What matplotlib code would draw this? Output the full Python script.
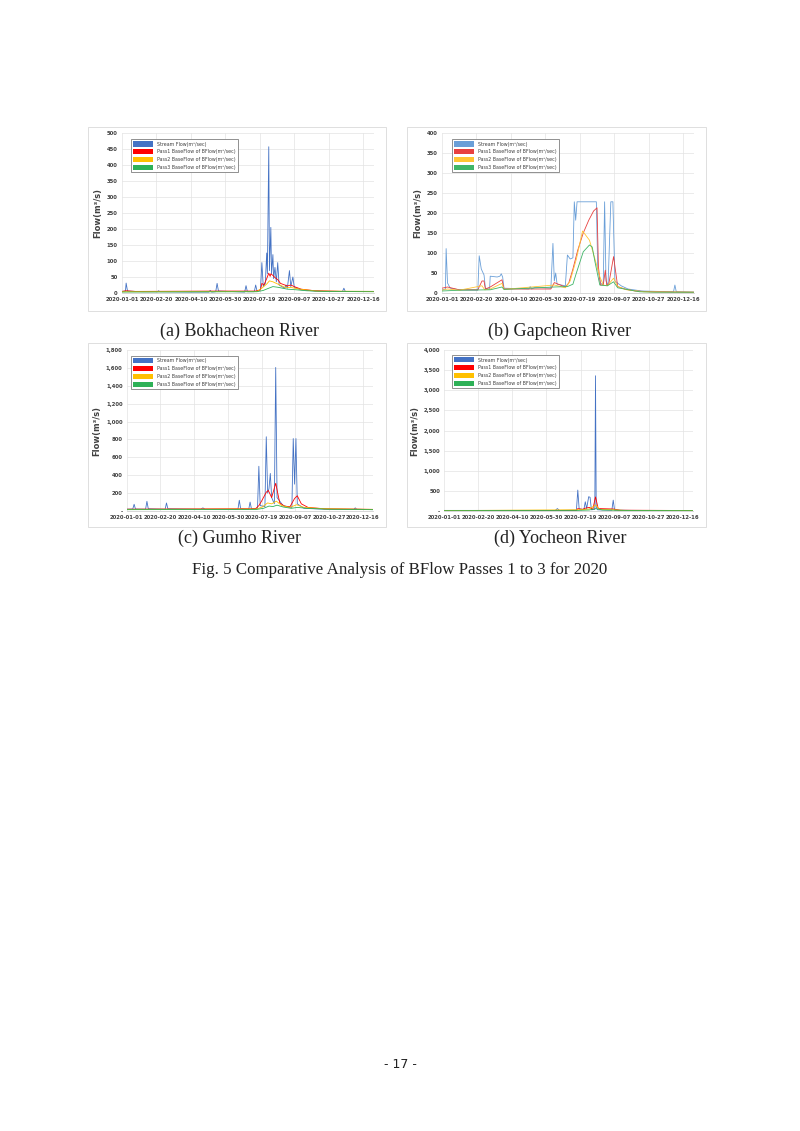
import numpy as np
import matplotlib
matplotlib.use("Agg")
import matplotlib.pyplot as plt
import matplotlib.dates as mdates
from matplotlib.patches import Patch, Rectangle
from matplotlib.ticker import FuncFormatter

# ---- data (MM-DD of 2020, flow in m3/s) ----
SERIES_LABELS = ['Stream Flow(m³/sec)', 'Pass1 BaseFlow of BFlow(m³/sec)',
                 'Pass2 BaseFlow of BFlow(m³/sec)', 'Pass3 BaseFlow of BFlow(m³/sec)']
PANEL_TITLES = ['(a) Bokhacheon River', '(b) Gapcheon River', '(c) Gumho River', '(d) Yocheon River']
FIG_CAPTION = 'Fig. 5 Comparative Analysis of BFlow Passes 1 to 3 for 2020'
PAGE_NO = '- 17 -'

# (a) Bokhacheon
A_STREAM_DATES = ['01-01', '01-06', '01-07', '01-09', '01-31', '02-22', '02-23', '02-25', '04-10', '05-06',
                  '05-08', '05-10', '05-16', '05-18', '05-20', '06-27', '06-29', '07-01', '07-11', '07-13',
                  '07-15', '07-20', '07-22', '07-24', '07-27', '07-29', '07-30', '08-01', '08-02', '08-04',
                  '08-05', '08-07', '08-08', '08-10', '08-12', '08-14', '08-16', '08-24', '08-26', '08-28',
                  '08-31', '09-02', '09-05', '09-07', '09-17', '10-07', '11-16', '11-18', '11-20', '12-31']
A_STREAM = [5, 6, 31, 6, 4, 4, 7, 4, 3, 3,
            8, 3, 4, 30, 6, 3, 23, 4, 4, 25,
            6, 10, 95, 20, 30, 125, 60, 457, 70, 205,
            60, 120, 45, 80, 35, 95, 25, 15, 25, 15,
            70, 20, 50, 18, 10, 6, 5, 15, 5, 5]
A_PASS1_DATES = ['01-01', '01-07', '01-20', '05-18', '07-13', '07-20', '07-22', '07-25', '07-29', '08-01',
                 '08-03', '08-04', '08-07', '08-10', '08-14', '08-18', '08-28', '09-02', '09-07', '09-17',
                 '10-07', '11-16', '12-31']
A_PASS1 = [5, 7, 5, 6, 6, 10, 30, 25, 45, 62, 52, 60, 55, 48, 42, 30, 22, 25, 20, 12, 7, 5, 5]
A_PASS2_DATES = ['01-01', '07-15', '07-22', '07-29', '08-02', '08-07', '08-14', '08-24', '09-03', '09-15',
                 '10-10', '12-31']
A_PASS2 = [4, 5, 15, 28, 38, 35, 28, 18, 17, 12, 6, 5]
A_PASS3_DATES = ['01-01', '07-15', '07-24', '08-01', '08-07', '08-14', '08-28', '09-10', '09-25', '10-20',
                 '12-31']
A_PASS3 = [3, 4, 8, 15, 20, 18, 12, 10, 7, 5, 4]

# (b) Gapcheon
B_STREAM_DATES = ['01-01', '01-06', '01-07', '01-09', '01-13', '01-26', '02-22', '02-24', '02-27', '03-02',
                  '03-04', '03-10', '03-11', '03-21', '03-25', '03-27', '03-29', '03-31', '05-06', '05-08',
                  '05-10', '05-15', '06-07', '06-10', '06-12', '06-14', '06-16', '06-28', '07-01', '07-05',
                  '07-09', '07-11', '07-13', '07-15', '08-12', '08-14', '08-18', '08-22', '08-24', '08-26',
                  '08-29', '09-02', '09-05', '09-08', '09-17', '09-27', '10-17', '12-02', '12-04', '12-06',
                  '12-31']
B_STREAM = [8, 10, 111, 25, 12, 8, 7, 93, 60, 45,
            12, 10, 42, 40, 42, 48, 40, 12, 10, 16,
            10, 14, 12, 124, 30, 50, 22, 18, 95, 85,
            88, 228, 182, 228, 228, 60, 25, 20, 228, 30,
            20, 228, 228, 30, 18, 10, 5, 3, 20, 3,
            2]
B_PASS1_DATES = ['01-01', '01-09', '01-26', '02-22', '02-28', '03-02', '03-04', '03-11', '03-28', '03-31',
                 '06-07', '06-12', '06-28', '07-03', '07-09', '07-16', '07-24', '08-01', '08-08', '08-13',
                 '08-15', '08-18', '08-22', '08-25', '08-27', '08-30', '09-06', '09-12', '09-22', '10-07',
                 '11-01', '12-31']
B_PASS1 = [12, 15, 8, 8, 30, 30, 10, 15, 33, 10,
           10, 26, 15, 25, 60, 107, 150, 182, 205, 213,
           66, 20, 20, 57, 20, 22, 91, 16, 10, 5,
           3, 2]
B_PASS2_DATES = ['01-01', '01-09', '01-26', '02-28', '03-03', '03-11', '03-28', '03-31', '06-12', '06-28',
                 '07-05', '07-14', '07-23', '08-02', '08-09', '08-17', '08-22', '08-28', '09-06', '09-12',
                 '09-25', '10-20', '12-31']
B_PASS2 = [7, 10, 7, 18, 8, 10, 24, 9, 20, 13, 30, 85, 155, 132, 91, 41, 20, 18, 37, 16, 8, 3, 2]
B_PASS3_DATES = ['01-01', '01-26', '03-11', '03-28', '03-31', '06-12', '07-01', '07-09', '07-14', '07-24',
                 '08-02', '08-06', '08-10', '08-17', '08-28', '09-06', '09-12', '10-14', '11-06', '12-31']
B_PASS3 = [5, 7, 8, 15, 9, 15, 16, 22, 50, 103, 120, 115, 78, 20, 18, 28, 13, 3, 2, 2]

# (c) Gumho
C_STREAM_DATES = ['01-01', '01-10', '01-12', '01-14', '01-29', '01-31', '02-02', '02-27', '02-29', '03-02',
                  '04-20', '04-23', '04-26', '06-14', '06-16', '06-18', '06-30', '07-02', '07-04', '07-13',
                  '07-15', '07-17', '07-24', '07-26', '07-28', '07-30', '08-01', '08-03', '08-07', '08-09',
                  '08-11', '08-20', '09-02', '09-04', '09-06', '09-08', '09-10', '09-20', '10-20', '12-03',
                  '12-05', '12-07', '12-31']
C_STREAM = [20, 22, 75, 22, 20, 108, 25, 20, 90, 25,
            20, 35, 20, 20, 120, 25, 20, 100, 25, 30,
            500, 60, 50, 830, 200, 250, 420, 150, 80, 1605,
            150, 60, 40, 810, 300, 810, 80, 30, 20, 20,
            35, 20, 15]
C_PASS1_DATES = ['01-01', '07-10', '07-15', '07-19', '07-26', '07-29', '08-03', '08-09', '08-15', '08-22',
                 '08-30', '09-06', '09-10', '09-16', '09-26', '10-20', '12-31']
C_PASS1 = [20, 25, 60, 110, 210, 230, 150, 310, 90, 55, 45, 140, 170, 80, 40, 25, 18]
C_PASS2_DATES = ['01-01', '07-12', '07-20', '07-28', '08-03', '08-10', '08-18', '08-30', '09-09', '09-20',
                 '10-20', '12-31']
C_PASS2 = [18, 22, 45, 90, 80, 110, 60, 40, 70, 40, 25, 18]
C_PASS3_DATES = ['01-01', '07-12', '07-22', '07-30', '08-05', '08-11', '08-20', '09-01', '09-10', '09-25',
                 '10-25', '12-31']
C_PASS3 = [15, 18, 30, 55, 50, 65, 45, 30, 40, 30, 20, 15]

# (d) Yocheon
D_STREAM_DATES = ['01-01', '06-12', '06-15', '06-18', '07-13', '07-15', '07-17', '07-24', '07-26', '07-28',
                  '07-31', '08-02', '08-04', '08-09', '08-10', '08-11', '08-13', '09-03', '09-05', '09-07',
                  '10-01', '12-31']
D_STREAM = [15, 15, 60, 15, 20, 520, 50, 40, 230, 60, 355, 340, 30, 40, 3360, 100, 30, 20, 270, 20, 15, 12]
D_PASS1_DATES = ['01-01', '07-13', '07-15', '07-22', '07-26', '08-01', '08-06', '08-10', '08-14', '09-05',
                 '09-15', '12-31']
D_PASS1 = [12, 15, 60, 40, 70, 90, 40, 350, 60, 50, 20, 12]
D_PASS2_DATES = ['01-01', '07-15', '07-26', '08-01', '08-10', '08-16', '09-05', '09-20', '12-31']
D_PASS2 = [10, 30, 40, 50, 150, 40, 30, 15, 10]
D_PASS3_DATES = ['01-01', '07-15', '08-01', '08-10', '08-20', '09-06', '10-01', '12-31']
D_PASS3 = [8, 15, 25, 60, 25, 20, 12, 8]

YMAX = [500, 400, 1800, 4000]
YSTEP = [50, 50, 200, 500]

COLORS = ['#4472C4', '#FF0000', '#FFC000', '#2EB157']
COLORS_B = ['#6A9FD8', '#E8403F', '#FFC533', '#3FB567']

W, H = 800, 1131


def to_dates(mmdd):
    return np.array(['2020-' + d for d in mmdd], dtype='datetime64[D]')


def px_box(left, top, right, bottom):
    return [left / W, 1 - bottom / H, (right - left) / W, (bottom - top) / H]


def draw_panel(fig, box, frame, data, ymax, ystep, colors, legend_xy, dash_zero):
    # chart area border like the Excel export
    fl, ft, fr, fb = frame
    fig.patches.append(Rectangle((fl / W, 1 - fb / H), (fr - fl) / W, (fb - ft) / H,
                                 transform=fig.transFigure, fill=False,
                                 edgecolor='#D9D9D9', linewidth=0.6))
    ax = fig.add_axes(px_box(*box))
    for (dates, vals), c in zip(data, colors):
        ax.plot(to_dates(dates), vals, color=c, linewidth=0.6)

    ax.set_xlim(np.datetime64('2020-01-01'), np.datetime64('2020-12-31'))
    ax.set_ylim(0, ymax)
    ticks = np.arange(np.datetime64('2020-01-01'), np.datetime64('2020-12-31'), 50)
    ax.set_xticks(ticks)
    ax.xaxis.set_major_formatter(mdates.DateFormatter('%Y-%m-%d'))
    ax.set_yticks(np.arange(0, ymax + 1, ystep))
    if dash_zero:
        ax.yaxis.set_major_formatter(FuncFormatter(lambda v, p: '-' if v == 0 else f'{v:,.0f}'))
    else:
        ax.yaxis.set_major_formatter(FuncFormatter(lambda v, p: f'{v:.0f}'))

    ax.grid(True, color='#E3E3E3', linewidth=0.5)
    ax.set_axisbelow(True)
    for s in ['top', 'right', 'left']:
        ax.spines[s].set_visible(False)
    ax.spines['bottom'].set_color('#D0D0D0')
    ax.spines['bottom'].set_linewidth(0.6)
    ax.tick_params(length=0, labelsize=3.8, colors='#404040', pad=3)
    for lb in ax.get_xticklabels() + ax.get_yticklabels():
        lb.set_fontweight('bold')
    ax.set_ylabel('Flow(m³/s)', fontsize=6, fontweight='bold', color='#404040', labelpad=3)

    handles = [Patch(facecolor=c, edgecolor='none') for c in colors]
    leg = ax.legend(handles, SERIES_LABELS, loc='upper left', bbox_to_anchor=legend_xy,
                    borderaxespad=0, fontsize=3.4, handlelength=4.2, handleheight=1.3,
                    labelspacing=0.55, handletextpad=0.8, borderpad=0.5,
                    fancybox=False, framealpha=1)
    leg.get_frame().set_edgecolor('#7F7F7F')
    leg.get_frame().set_linewidth(0.6)
    for t in leg.get_texts():
        t.set_color('#404040')
    return ax


def main():
    fig = plt.figure(figsize=(8, 11.31), dpi=100)

    panels = [
        ((122, 133, 373.5, 293), (88, 127, 386, 311),
         [(A_STREAM_DATES, A_STREAM), (A_PASS1_DATES, A_PASS1), (A_PASS2_DATES, A_PASS2), (A_PASS3_DATES, A_PASS3)],
         COLORS, (0.036, 0.9625), False),
        ((442, 133, 693.5, 293), (407, 127, 706, 311),
         [(B_STREAM_DATES, B_STREAM), (B_PASS1_DATES, B_PASS1), (B_PASS2_DATES, B_PASS2), (B_PASS3_DATES, B_PASS3)],
         COLORS_B, (0.039, 0.9625), False),
        ((126.7, 350, 372.8, 511), (88, 343, 386, 527),
         [(C_STREAM_DATES, C_STREAM), (C_PASS1_DATES, C_PASS1), (C_PASS2_DATES, C_PASS2), (C_PASS3_DATES, C_PASS3)],
         COLORS, (0.0175, 0.963), True),
        ((444.3, 350, 692.9, 511), (407, 343, 706, 527),
         [(D_STREAM_DATES, D_STREAM), (D_PASS1_DATES, D_PASS1), (D_PASS2_DATES, D_PASS2), (D_PASS3_DATES, D_PASS3)],
         COLORS, (0.03, 0.969), True),
    ]
    for i, (box, frame, data, cols, lxy, dz) in enumerate(panels):
        draw_panel(fig, box, frame, data, YMAX[i], YSTEP[i], cols, lxy, dz)

    serif = ['Liberation Serif', 'DejaVu Serif']
    cap_pos = [(239, 331), (560, 331), (239, 538), (560, 538)]
    for (x, y), t in zip(cap_pos, PANEL_TITLES):
        fig.text(x / W, 1 - y / H, t, ha='center', va='center', fontsize=13,
                 family=serif, color='#222222')
    fig.text(400 / W, 1 - 570 / H, FIG_CAPTION, ha='center', va='center', fontsize=12.2,
             family=serif, color='#222222')
    fig.text(400 / W, 1 - 1064 / H, PAGE_NO, ha='center', va='center', fontsize=9,
             family=['DejaVu Sans'], color='#222222')

    fig.savefig('out.png', dpi=100)
    plt.close(fig)


if __name__ == '__main__':
    main()
